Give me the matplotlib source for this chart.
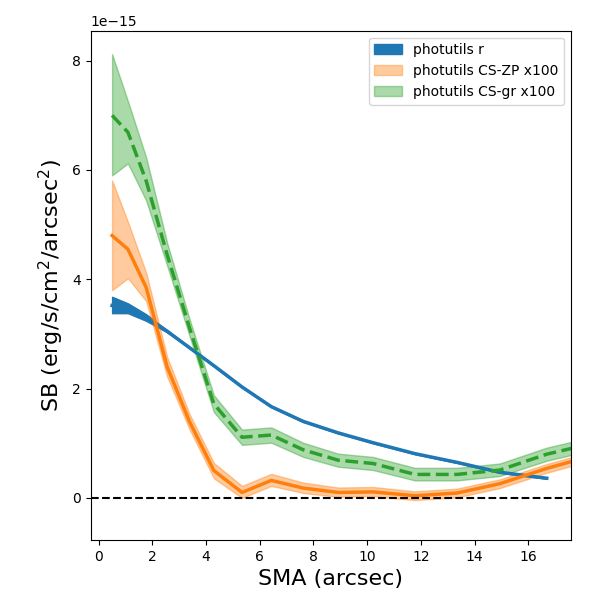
import numpy as np
import matplotlib
matplotlib.use("Agg")
import matplotlib.pyplot as plt

sma = [0.5, 1.09, 1.77, 2.55, 3.38, 4.29, 5.34, 6.43, 7.62, 8.92, 10.22, 11.78, 13.35, 14.94, 16.69, 18.6]

# photutils r (units of 1e-15)
r_sb = [3.52, 3.43, 3.30, 3.05, 2.75, 2.42, 2.03, 1.67, 1.40, 1.19, 1.01, 0.81, 0.65, 0.47, 0.36]
r_lo = [3.38, 3.38, 3.24, 3.03, 2.74, 2.41, 2.02, 1.66, 1.39, 1.18, 1.00, 0.80, 0.64, 0.46, 0.35]
r_hi = [3.68, 3.56, 3.36, 3.07, 2.76, 2.43, 2.04, 1.68, 1.41, 1.20, 1.02, 0.82, 0.66, 0.48, 0.37]

# photutils CS-ZP x100
zp_sb = [4.80, 4.55, 3.85, 2.40, 1.40, 0.50, 0.10, 0.32, 0.18, 0.10, 0.11, 0.04, 0.09, 0.26, 0.54, 0.80]
zp_lo = [3.80, 4.02, 3.60, 2.22, 1.26, 0.36, 0.00, 0.22, 0.09, 0.02, 0.03, -0.04, 0.01, 0.18, 0.46, 0.72]
zp_hi = [5.81, 5.05, 4.12, 2.58, 1.54, 0.64, 0.22, 0.44, 0.28, 0.19, 0.20, 0.12, 0.17, 0.34, 0.62, 0.88]

# photutils CS-gr x100
gr_sb = [7.00, 6.69, 5.80, 4.45, 3.12, 1.72, 1.11, 1.15, 0.88, 0.69, 0.63, 0.43, 0.43, 0.51, 0.80, 1.02]
gr_lo = [5.90, 6.12, 5.44, 4.25, 2.97, 1.57, 0.97, 1.01, 0.75, 0.57, 0.51, 0.32, 0.32, 0.40, 0.68, 0.90]
gr_hi = [8.12, 7.26, 6.23, 4.67, 3.28, 1.88, 1.25, 1.29, 1.01, 0.81, 0.75, 0.55, 0.55, 0.63, 0.92, 1.14]

scale = 1e-15
x = np.array(sma)
xr = x[:len(r_sb)]

fig = plt.figure(figsize=(6, 6), dpi=100)
ax = fig.add_axes([0.151, 0.10, 0.801, 0.849])

ax.fill_between(xr, np.array(r_lo) * scale, np.array(r_hi) * scale, color='C0', alpha=1.0, label='photutils r')
ax.plot(xr, np.array(r_sb) * scale, color='C0', lw=2.5)

ax.fill_between(x, np.array(zp_lo) * scale, np.array(zp_hi) * scale, color='C1', alpha=0.4, label='photutils CS-ZP x100')
ax.plot(x, np.array(zp_sb) * scale, color='C1', lw=2.5)

ax.fill_between(x, np.array(gr_lo) * scale, np.array(gr_hi) * scale, color='C2', alpha=0.4, label='photutils CS-gr x100')
ax.plot(x, np.array(gr_sb) * scale, color='C2', lw=2.5, ls='--')

ax.axhline(0, color='k', ls='--', lw=1.5)

ax.set_xlim(-0.3, 17.6)
ax.set_ylim(-0.77e-15, 8.55e-15)
ax.set_xticks(np.arange(0, 17, 2))
ax.set_yticks(np.array([0, 2, 4, 6, 8]) * scale)
ax.set_xlabel('SMA (arcsec)', fontsize=16)
ax.set_ylabel('SB (erg/s/cm$^2$/arcsec$^2$)', fontsize=16)
ax.legend(loc='upper right')

fig.savefig('out.png', dpi=100)
